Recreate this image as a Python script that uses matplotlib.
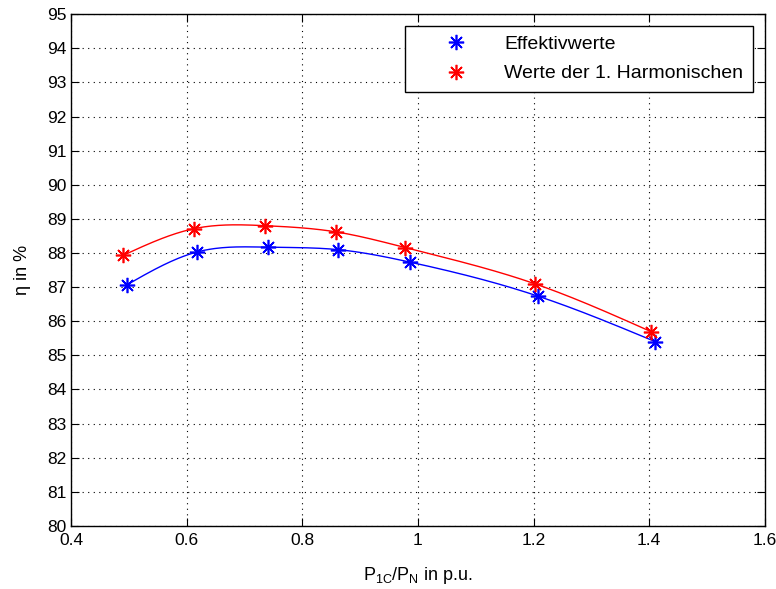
import numpy as np
import matplotlib.pyplot as plt

# measured points
x_eff = [0.496, 0.618, 0.741, 0.861, 0.987, 1.207, 1.411]
y_eff = [87.06, 88.03, 88.17, 88.10, 87.73, 86.74, 85.40]
x_h1 = [0.490, 0.612, 0.736, 0.858, 0.978, 1.202, 1.404]
y_h1 = [87.93, 88.71, 88.80, 88.62, 88.16, 87.10, 85.69]
labels = ['Effektivwerte', 'Werte der 1. Harmonischen']
xticks = [0.4, 0.6, 0.8, 1.0, 1.2, 1.4, 1.6]
xticklabels = ['0.4', '0.6', '0.8', '1', '1.2', '1.4', '1.6']


def spline(x, y, xs):
    # natural cubic spline through the points
    x = np.asarray(x, float); y = np.asarray(y, float)
    n = len(x); h = np.diff(x)
    A = np.zeros((n, n)); b = np.zeros(n)
    A[0, 0] = A[-1, -1] = 1
    for i in range(1, n - 1):
        A[i, i - 1] = h[i - 1]
        A[i, i] = 2 * (h[i - 1] + h[i])
        A[i, i + 1] = h[i]
        b[i] = 6 * ((y[i + 1] - y[i]) / h[i] - (y[i] - y[i - 1]) / h[i - 1])
    M = np.linalg.solve(A, b)
    k = np.clip(np.searchsorted(x, xs) - 1, 0, n - 2)
    t0 = x[k + 1] - xs; t1 = xs - x[k]; hk = h[k]
    return (M[k] * t0**3 + M[k + 1] * t1**3) / (6 * hk) \
        + (y[k] / hk - M[k] * hk / 6) * t0 + (y[k + 1] / hk - M[k + 1] * hk / 6) * t1


plt.rcParams['font.family'] = 'Liberation Sans'
fig = plt.figure(figsize=(7.76, 5.89), dpi=100)
ax = fig.add_axes([0.0915, 0.107, 0.894, 0.869])

star = (8, 2, 0)  # matlab style asterisk
for xs, ys, c, lab in [(x_eff, y_eff, 'b', labels[0]), (x_h1, y_h1, 'r', labels[1])]:
    xf = np.linspace(xs[0], xs[-1], 300)
    ax.plot(xf, spline(xs, ys, xf), color=c, lw=1)
    ax.plot(xs, ys, linestyle='none', marker=star, color=c, ms=11, mew=1.2, label=lab)

ax.set_xlim(0.4, 1.6)
ax.set_ylim(80, 95)
ax.set_xticks(xticks)
ax.set_xticklabels(xticklabels)
ax.set_yticks(range(80, 96))
ax.tick_params(direction='in', top=True, right=True, labelsize=12.5, length=6, pad=3)
ax.tick_params(axis='x', pad=5)
ax.grid(True, color='k', linestyle=(0, (1, 4)), linewidth=0.8)
for s in ax.spines.values():
    s.set_linewidth(1)
ax.set_xlabel('P$_{\\mathregular{1C}}$/P$_{\\mathregular{N}}$ in p.u.', fontsize=13, labelpad=12)
ax.set_ylabel('η in %', fontsize=13, labelpad=12)
leg = ax.legend(loc='upper right', fontsize=14, fancybox=False, edgecolor='k',
                framealpha=1, borderaxespad=0.6, borderpad=0.5, labelspacing=0.6,
                handlelength=4.2, handletextpad=0.4)
leg.get_frame().set_linewidth(1)

fig.savefig('out.png')
